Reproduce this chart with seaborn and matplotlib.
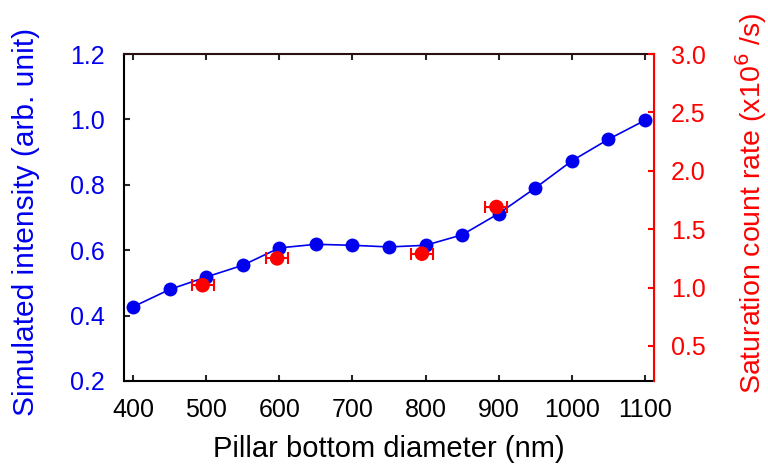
import matplotlib
matplotlib.use("Agg")
import matplotlib.pyplot as plt
import seaborn as sns
import pandas as pd

# Simulated intensity vs pillar bottom diameter
diameter_nm = [400, 450, 500, 550, 600, 650, 700, 750, 800, 850, 900, 950, 1000, 1050, 1100]
sim_intensity = [0.427, 0.480, 0.518, 0.554, 0.607, 0.618, 0.615, 0.610, 0.615, 0.647,
                 0.712, 0.790, 0.873, 0.939, 0.997]

# Measured saturation count rate (x10^6 /s) with diameter uncertainty
meas_diameter_nm = [495, 597, 795, 897]
sat_rate = [1.02, 1.25, 1.29, 1.69]
diameter_err_nm = [15, 15, 15, 15]

x_ticks = [400, 500, 600, 700, 800, 900, 1000, 1100]
left_ticks = [0.2, 0.4, 0.6, 0.8, 1.0, 1.2]
right_ticks = [0.5, 1.0, 1.5, 2.0, 2.5, 3.0]

sns.set_style("ticks")
plt.rcParams["font.family"] = ["Liberation Sans", "DejaVu Sans"]

BLUE = "#0000ee"
RED = "#ff0000"
TICK_FS = 18
LABEL_FS = 21.5

sim_df = pd.DataFrame({"diameter": diameter_nm, "intensity": sim_intensity})
meas_df = pd.DataFrame({"diameter": meas_diameter_nm, "rate": sat_rate})

fig = plt.figure(figsize=(7.68, 4.70), dpi=100)
ax = fig.add_axes([124 / 768, 1 - 381 / 470, 530 / 768, 327 / 470])

sns.lineplot(data=sim_df, x="diameter", y="intensity", ax=ax, color=BLUE,
             linewidth=1.2, marker="o", markersize=10, markeredgewidth=0,
             markerfacecolor=BLUE, zorder=3)

ax.set_xlim(387.5, 1112.5)
ax.set_ylim(0.2, 1.2)
ax.set_xticks(x_ticks)
ax.set_yticks(left_ticks)
ax.set_yticklabels([f"{v:.1f}" for v in left_ticks])
ax.set_xlabel("Pillar bottom diameter (nm)", fontsize=21, color="black")
ax.xaxis.set_label_coords(0.5, -0.165)
ax.set_ylabel("Simulated intensity (arb. unit)", fontsize=LABEL_FS, color=BLUE)
ax.yaxis.set_label_coords(-0.1585, 0.486)
ax.tick_params(axis="x", direction="in", top=True, length=4, width=1.5,
               labelsize=TICK_FS, labelcolor="black", pad=12)
ax.tick_params(axis="y", direction="in", length=4, width=1.5,
               labelsize=TICK_FS, labelcolor=BLUE, pad=14)
for side in ["left", "bottom", "top"]:
    ax.spines[side].set_visible(True)
    ax.spines[side].set_linewidth(1.5)
    ax.spines[side].set_color("black")
ax.spines["top"].set_color("#2a1010")

ax2 = ax.twinx()
ax2.errorbar(meas_diameter_nm, sat_rate, xerr=diameter_err_nm, fmt="none",
             ecolor=RED, elinewidth=1.5, capsize=4, capthick=1.5, zorder=4)
sns.scatterplot(data=meas_df, x="diameter", y="rate", ax=ax2, color=RED,
                s=110, edgecolor="none", zorder=5)
ax2.set_ylim(0.2, 3.0)
ax2.set_yticks(right_ticks)
ax2.set_yticklabels([f"{v:.1f}" for v in right_ticks])
ax2.set_ylabel("Saturation count rate (x10$^{6}$ /s)", fontsize=20.5, color=RED)
ax2.yaxis.set_label_coords(1.15, 0.545)
ax2.set_xlabel("")
ax2.tick_params(axis="y", direction="in", length=4, width=1.5, colors=RED,
                labelsize=TICK_FS, pad=12)
ax2.spines["right"].set_visible(True)
ax2.spines["right"].set_color(RED)
ax2.spines["right"].set_linewidth(1.5)
ax2.spines["top"].set_visible(False)
ax2.spines["left"].set_visible(False)
ax2.spines["bottom"].set_visible(False)
ax2.set_xlim(387.5, 1112.5)

fig.savefig("out.png", dpi=100)
